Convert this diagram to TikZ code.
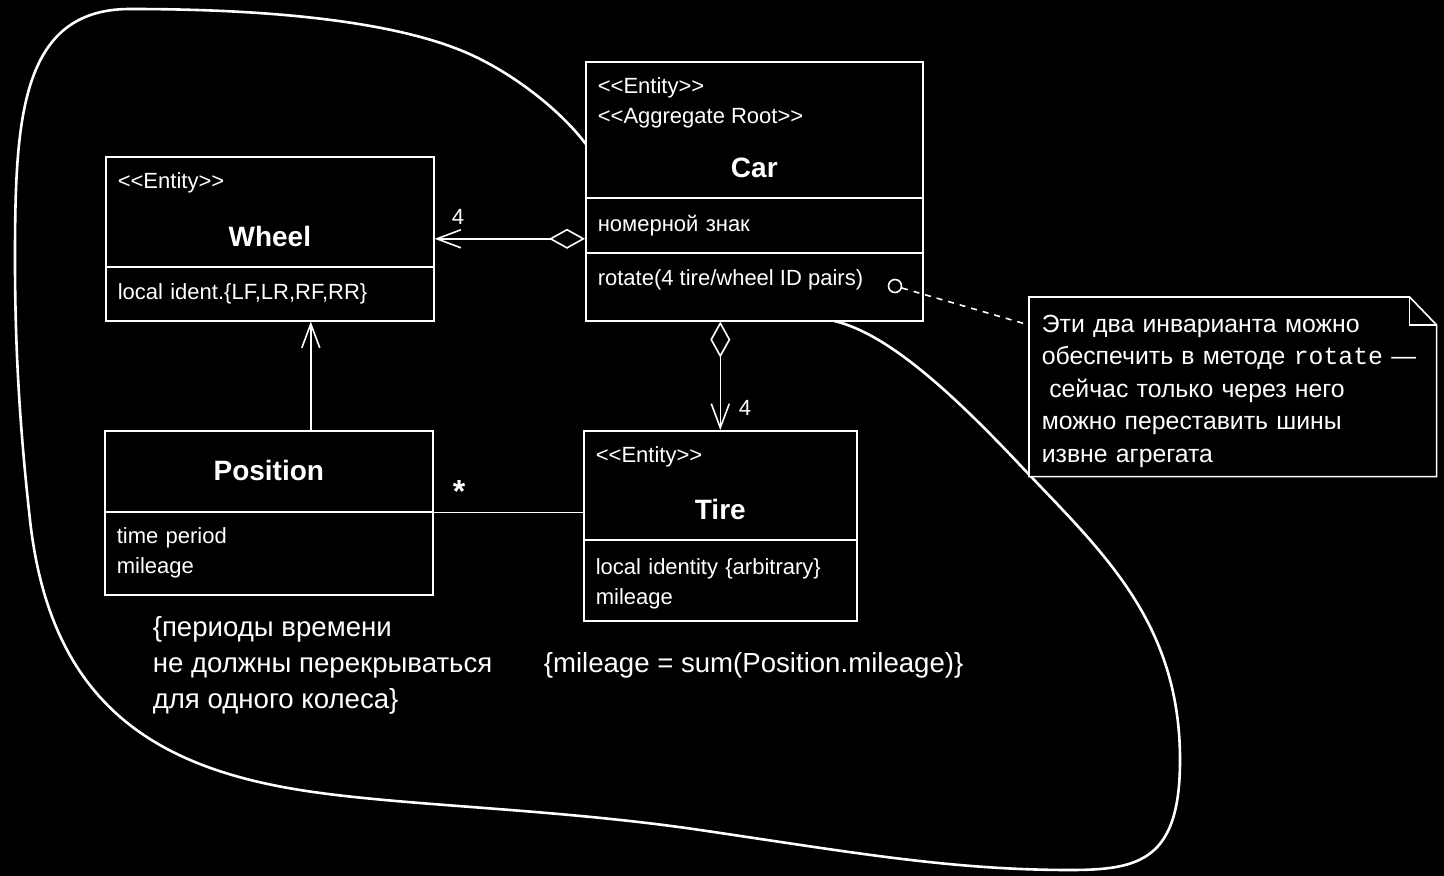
\documentclass[tikz,border=0pt]{standalone}
\usepackage{fontspec}
\setmainfont{Liberation Sans}
\newfontfamily\codefont{Liberation Mono}
\usetikzlibrary{arrows.meta}

\newcommand{\stereo}[1]{<{}<#1>{}>}

\begin{document}
\begin{tikzpicture}[x=0.5pt, y=-0.5pt, line width=0.8pt, white,
	class-box/.style={draw, fill=black, inner sep=0pt, anchor=north west, align=left, font=\fontsize{11}{15}\selectfont},
	stereotype/.style={anchor=west, inner sep=0pt, align=left, font=\fontsize{11}{15}\selectfont},
	class-name/.style={inner sep=0pt, font=\bfseries\fontsize{14}{16}\selectfont},
	mult/.style={inner sep=0pt, font=\fontsize{11}{13}\selectfont},
	constraint/.style={anchor=west, inner sep=0pt, align=left, font=\fontsize{13.8}{18}\selectfont},
	aggr/.style={arrows={{Diamond[open,length=18pt,width=10pt]}-{Straight Barb[length=12pt,width=9pt]}}},
	nav/.style={arrows={-{Straight Barb[length=12pt,width=9pt]}}}]
	\useasboundingbox (0,0) rectangle (1444,876);
	\fill[black] (0,0) rectangle (1444,876);

	% aggregate boundary
	\draw[line width=1.3pt, line cap=round, line join=round] (15,260) .. controls (15,120) and (20,9) .. (130,9)
		.. controls (250,9) and (380,18) .. (460,50)
		.. controls (510,70) and (560,110) .. (585,143)
		.. controls (650,210) and (770,290) .. (830,320)
		.. controls (880,330) and (940,380) .. (1020,465)
		.. controls (1100,550) and (1180,620) .. (1180,760)
		.. controls (1180,860) and (1140,870) .. (1070,870)
		.. controls (950,870) and (850,852) .. (700,830)
		.. controls (550,808) and (400,806) .. (300,790)
		.. controls (150,766) and (50,700) .. (30,520)
		.. controls (20,430) and (15,350) .. (15,260);

	% Wheel
	\node[class-box, minimum width=164pt, minimum height=55pt] at (105,156) (wheel-head) {};
	\node[class-box, minimum width=164pt, minimum height=27pt, text width=152pt] at (105,266) (wheel-attr) {local ident.\{LF,LR,RF,RR\}};
	\node[stereotype] at ([shift={(6pt,-13.5pt)}]wheel-head.north west) (wheel-stereo) {\stereo{Entity}};
	\node[class-name] at ([yshift=-12.5pt]wheel-head.center) (wheel-name) {Wheel};

	% Car
	\node[class-box, minimum width=168.5pt, minimum height=68pt] at (585,61) (car-head) {};
	\node[class-box, minimum width=168.5pt, minimum height=27.5pt, text width=156.5pt] at (585,197) (car-attr) {номерной знак};
	\node[class-box, minimum width=168.5pt, minimum height=34pt] at (585,252) (car-ops) {};
	\node[stereotype] at ([shift={(6pt,-21pt)}]car-head.north west) (car-stereo) {\stereo{Entity}\\\stereo{Aggregate Root}};
	\node[class-name] at ([yshift=-19pt]car-head.center) (car-name) {Car};
	\node[stereotype] at ([shift={(6pt,-14pt)}]car-ops.north west) (car-rotate) {rotate(4 tire/wheel ID pairs)};

	% Position
	\node[class-box, minimum width=164pt, minimum height=40.5pt] at (104,430) (pos-head) {};
	\node[class-box, minimum width=164pt, minimum height=41.5pt, text width=152pt] at (104,511) (pos-attr) {time period\\mileage};
	\node[class-name] at ([yshift=0.5pt]pos-head.center) (pos-name) {Position};

	% Tire
	\node[class-box, minimum width=136.5pt, minimum height=54.5pt] at (583,430) (tire-head) {};
	\node[class-box, minimum width=136.5pt, minimum height=40.5pt, text width=124.5pt] at (583,539) (tire-attr) {\rule{0pt}{11pt}local identity \{arbitrary\}\\mileage};
	\node[stereotype] at ([shift={(6pt,-13.5pt)}]tire-head.north west) (tire-stereo) {\stereo{Entity}};
	\node[class-name] at ([yshift=-12pt]tire-head.center) (tire-name) {Tire};

	% associations
	\coordinate (car-wheel) at ([yshift=-6.75pt]car-attr.west);
	\draw[aggr] (car-wheel) -- (car-wheel -| wheel-head.east);
	\node[mult] at (458,217) (wheel-mult) {4};

	\draw[aggr] (car-ops.south -| tire-head.north) -- (tire-head.north);
	\node[mult] at (745,408) (tire-mult) {4};

	\coordinate (pos-wheel) at ([xshift=21pt]pos-head.north);
	\draw[nav] (pos-wheel) -- (pos-wheel |- wheel-attr.south);

	\draw (pos-head.south east) -- (pos-head.south east -| tire-head.west);
	\node[inner sep=0pt, font=\bfseries\fontsize{16}{16}\selectfont] at (459,491) (pos-mult) {*};

	% constraints
	\node[constraint] at (152,665) (period-rule) {\{периоды времени\\не должны перекрываться\\для одного колеса\}};
	\node[constraint] at (543,665) (mileage-rule) {\{mileage = sum(Position.mileage)\}};

	% note
	\node[anchor=north west, fill=black, inner sep=0pt, minimum width=203pt, minimum height=89pt, text width=191pt, align=left, font=\fontsize{12.4}{16.25}\selectfont] at (1029,297) (note) {\rule{0pt}{13pt}Эти два инварианта можно\\обеспечить в методе {\codefont rotate} —\\\hspace*{0.3em}сейчас только через него\\можно переставить шины\\извне агрегата};
	\draw (note.north west) -- ([xshift=-13.5pt]note.north east) -- ([yshift=-14pt]note.north east) -- (note.south east) -- (note.south west) -- cycle;
	\draw ([xshift=-13.5pt]note.north east) |- ([yshift=-14pt]note.north east);
	\node[draw, circle, inner sep=0pt, minimum size=6.5pt] at (895,286) (note-pin) {};
	\draw[dashed] (note-pin) -- ([yshift=-14pt]note.north west);
\end{tikzpicture}
\end{document}
